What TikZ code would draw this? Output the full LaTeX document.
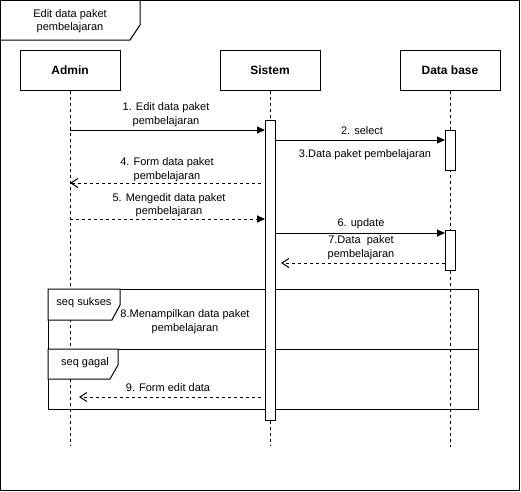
\documentclass[tikz,border=0pt]{standalone}
\usepackage{fontspec}
\setmainfont{Liberation Sans}
\usetikzlibrary{arrows.meta}
\begin{document}
\begin{tikzpicture}[x=1pt,y=-1pt,line width=1pt,
  head/.style={draw,minimum width=100pt,minimum height=40pt,inner sep=0pt,font=\bfseries\fontsize{12}{14}\selectfont},
  act/.style={draw,fill=white,minimum width=10pt,inner sep=0pt},
  lbl/.style={font=\fontsize{11}{13.5}\selectfont,align=center,inner sep=0pt},
  life/.style={dash pattern=on 3pt off 3pt},
  sync/.style={-{Triangle[length=8pt,width=7pt]}},
  reply/.style={dash pattern=on 3pt off 3pt,-{Straight Barb[length=7pt,width=9pt]}},
  call/.style={dash pattern=on 3pt off 3pt,-{Triangle[length=8pt,width=7pt]}},
  tab/.style={draw,fill=white}
]
\useasboundingbox (0,0) rectangle (521,491);
\fill[white] (0,0) rectangle (521,491);
% outer frame
\draw (0.5,0.5) rectangle (519.5,490);
\draw (0.5,40) -- (130,40) -- (140,25) -- (140,0.5);
\node[lbl] (title) at (70,21) {Edit data paket\\pembelajaran};
% heads
\node[head] (admin) at (70,70) {Admin};
\node[head] (sistem) at (270,70) {Sistem};
\node[head] (db) at (450,70) {Data base};
% lifeline ends
\coordinate (adminEnd) at (70,445);
\coordinate (sistemEnd) at (270,445);
\coordinate (dbEnd) at (450,447);
\draw[life] (admin.south) -- (adminEnd);
\draw[life] (sistem.south) -- (sistemEnd);
\draw[life] (db.south) -- (dbEnd);
% seq frames
\draw (48,289) rectangle (478,409);
\draw (48,349) -- (478,349);
\draw[tab] (48,289) -- (48,320) -- (112,320) -- (120,305) -- (120,289) -- cycle;
\draw[tab] (48,349) -- (48,379) -- (110,379) -- (118,365) -- (118,349) -- cycle;
\node[lbl] (sukses) at (84,303) {seq sukses};
\node[lbl] (gagal) at (85,363) {seq gagal};
% activations
\node[act,minimum height=300pt] (sact) at (270,270) {};
\node[act,minimum height=40pt] (dact1) at (450,150) {};
\node[act,minimum height=40pt] (dact2) at (450,250) {};
% message endpoints
\coordinate (a1) at (70,130);  \coordinate (s1) at (265,130);
\coordinate (s2) at (275,140); \coordinate (d2) at (445,140);
\coordinate (s4) at (261,183); \coordinate (a4) at (70,183);
\coordinate (a5) at (70,219);  \coordinate (s5) at (265,219);
\coordinate (s6) at (275,233); \coordinate (d6) at (445,233);
\coordinate (d7) at (445,263); \coordinate (s7) at (281,263);
\coordinate (s9) at (261,397); \coordinate (a9) at (79,397);
% messages
\draw[sync] (a1) -- (s1);
\node[lbl] (l1) at (166,114.5) {1. Edit data paket\\pembelajaran};
\draw[sync] (s2) -- (d2);
\node[lbl] (l2) at (362,131) {2. select};
\node[lbl] (l3) at (365,155) {3.Data paket pembelajaran};
\draw[reply] (s4) -- (a4);
\node[lbl] (l4) at (167,169.5) {4. Form data paket\\pembelajaran};
\draw[call] (a5) -- (s5);
\node[lbl] (l5) at (169,205) {5. Mengedit data paket\\pembelajaran};
\draw[sync] (s6) -- (d6);
\node[lbl] (l6) at (361,224) {6. update};
\draw[reply] (d7) -- (s7);
\node[lbl] (l7) at (361,247.5) {7.Data~~paket\\pembelajaran};
\node[lbl] (l8) at (185,321.5) {8.Menampilkan data paket\\pembelajaran};
\draw[reply] (s9) -- (a9);
\node[lbl] (l9) at (168,388) {9. Form edit data};
\end{tikzpicture}
\end{document}
